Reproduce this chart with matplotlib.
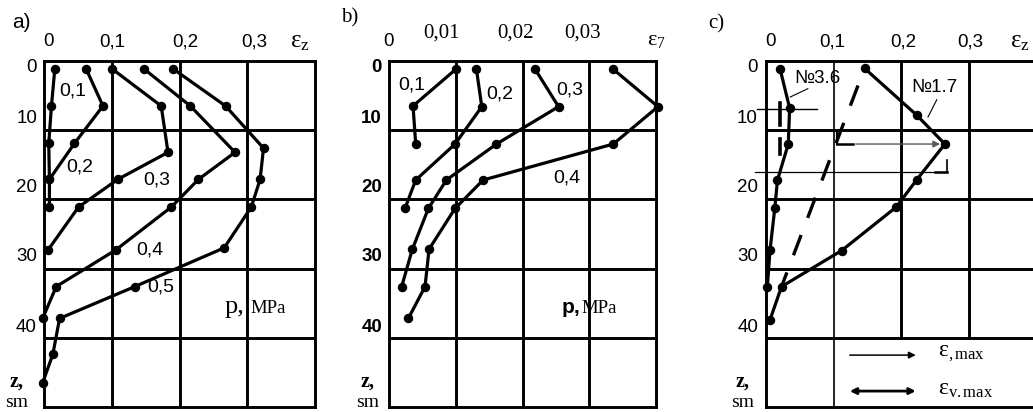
import matplotlib
matplotlib.use('Agg')
import matplotlib.pyplot as plt
from matplotlib.transforms import blended_transform_factory, ScaledTranslation

plt.rcParams['mathtext.fontset'] = 'custom'
plt.rcParams['mathtext.rm'] = 'Liberation Serif'
plt.rcParams['mathtext.it'] = 'Liberation Serif:italic'
plt.rcParams['mathtext.bf'] = 'Liberation Serif:bold'

SANS = 'Liberation Sans'
SERIF = 'Liberation Serif'

# ---------------- data ----------------
# panel a: eps_z vs depth z (cm), loads p (MPa)
a_loads = ['0,1', '0,2', '0,3', '0,4', '0,5']
a_z = [
    [1.1, 6.5, 11.9, 17.1, 21.1],
    [1.1, 6.5, 11.9, 17.1],
    [1.1, 6.5, 13.2, 17.1, 21.1, 27.3],
    [1.1, 6.5, 13.2, 17.1, 21.1, 27.3, 32.6, 37.2],
    [1.1, 6.5, 12.6, 17.1, 21.1, 27.0, 32.6, 37.2, 42.4, 46.5],
]
a_eps = [
    [0.016, 0.011, 0.007, 0.008, 0.008],
    [0.062, 0.087, 0.045, 0.008],
    [0.100, 0.173, 0.183, 0.109, 0.051, 0.006],
    [0.147, 0.216, 0.282, 0.228, 0.188, 0.106, 0.018, -0.002],
    [0.190, 0.268, 0.324, 0.319, 0.306, 0.266, 0.134, 0.023, 0.013, -0.002],
]
a_label_x = [0.043, 0.053, 0.166, 0.156, 0.173]
a_label_z = [4.4, 15.3, 17.2, 27.3, 32.6]
a_xticklabels = ['0', '0,1', '0,2', '0,3']

# panel b
b_loads = ['0,1', '0,2', '0,3', '0,4']
b_z = [
    [1.2, 6.5, 12.0],
    [1.2, 6.6, 12.0, 17.2, 21.3],
    [1.2, 6.6, 12.0, 17.2, 21.3, 27.2, 32.6],
    [1.2, 6.6, 12.0, 17.2, 21.3, 27.2, 32.6, 37.2],
]
b_eps = [
    [0.0100, 0.0036, 0.0040],
    [0.0131, 0.0139, 0.0099, 0.0040, 0.0024],
    [0.0219, 0.0254, 0.0161, 0.0086, 0.0059, 0.0035, 0.0019],
    [0.0336, 0.0403, 0.0336, 0.0141, 0.0099, 0.0060, 0.0054, 0.0029],
]
b_label_x = [0.0034, 0.0166, 0.0271, 0.0266]
b_label_z = [3.5, 4.7, 4.2, 16.9]
b_xticklabels = ['0,01', '0,02', '0,03']

# panel c
c_n17_z = [1.06, 7.8, 12.0, 17.2, 21.1, 27.4, 32.6, 37.4]
c_n17_e = [0.146, 0.223, 0.265, 0.223, 0.193, 0.112, 0.023, 0.006]
c_n36_z = [1.2, 6.8, 12.0, 17.2, 21.3, 27.3, 32.6]
c_n36_e = [0.021, 0.035, 0.033, 0.017, 0.013, 0.006, 0.002]
c_trend_z = [1.06, 32.6]
c_trend_e = [0.146, 0.023]
c_xticklabels = ['0', '0,1', '0,2', '0,3']

depth_labels = ['0', '10', '20', '30', '40']

# ---------------- layout ----------------
W, H = 1033, 412
fig = plt.figure(figsize=(W / 100, H / 100), dpi=100)

def ax_rect(left_px, width_px, top_px=61, bottom_px=407):
    return [left_px / W, 1 - bottom_px / H, width_px / W, (bottom_px - top_px) / H]

axA = fig.add_axes(ax_rect(44, 271))
axB = fig.add_axes(ax_rect(389, 267))
axC = fig.add_axes(ax_rect(766, 270))

LW = 2.1
depth_label_pos = [0.9, 8.3, 18.3, 28.3, 38.5]
DPX = 0.01  # inches per pixel at 100 dpi

def base(ax, xmax, full_grid=True):
    ax.set_xlim(0, xmax)
    ax.set_ylim(50, 0)
    ax.set_xticks([])
    ax.set_yticks([])
    for s in ax.spines.values():
        s.set_linewidth(LW)
    for k in (1, 2, 3, 4):
        ax.axhline(k * 10, color='k', lw=LW, zorder=1)
    if full_grid:
        for k in (1, 2, 3):
            ax.axvline(k * xmax / 4, color='k', lw=LW, zorder=1)

def left_labels(ax, right_px, fam=SANS, weight='normal'):
    tr = blended_transform_factory(ax.transAxes, ax.transData) + \
        ScaledTranslation(-right_px * DPX, 0, fig.dpi_scale_trans)
    for lab, z in zip(depth_labels, depth_label_pos):
        ax.text(0, z, lab, transform=tr, ha='right', va='center',
                fontsize=13.5, family=fam, weight=weight)

def zsm(ax, center_px):
    tr = blended_transform_factory(ax.transAxes, ax.transData) + \
        ScaledTranslation(-center_px * DPX, 0, fig.dpi_scale_trans)
    ax.text(0, 46.4, 'z,', transform=tr, ha='center', va='center',
            fontsize=14.5, family=SERIF, weight='bold')
    ax.text(0, 49.4, 'sm', transform=tr, ha='center', va='center',
            fontsize=14, family=SERIF)

def top_text(ax, x, s, ypx, fam=SANS, size=13.5, **kw):
    tr = blended_transform_factory(ax.transData, ax.transAxes)
    ax.text(x, 1 + (61 - ypx) / 346, s, transform=tr, ha='center',
            va='center', fontsize=size, family=fam, **kw)

def curve(ax, xs, zs):
    ax.plot(xs, zs, color='k', lw=2.3, marker='o', ms=5.8, zorder=3,
            clip_on=False, solid_capstyle='round')

# ---------------- panel a ----------------
base(axA, 0.4)
for xs, zs in zip(a_eps, a_z):
    curve(axA, xs, zs)
for lab, x, z in zip(a_loads, a_label_x, a_label_z):
    axA.text(x, z, lab, ha='center', va='center', fontsize=14, family=SANS)
for x, lab in zip([0.006, 0.1003, 0.208, 0.311], a_xticklabels):
    top_text(axA, x, lab, 42)
top_text(axA, 0.378, r'$\mathrm{ε}_{\mathrm{z}}$', 42, fam=SERIF, size=18)
left_labels(axA, 7)
zsm(axA, 27)
axA.text(0.267, 36.4, 'p,', ha='left', va='baseline', fontsize=19, family=SERIF)
axA.text(0.304, 36.4, 'MPa', ha='left', va='baseline', fontsize=13.5, family=SERIF)
fig.text(12 / W, 1 - 22 / H, 'a)', ha='left', va='center', fontsize=15, family=SANS)

# ---------------- panel b ----------------
base(axB, 0.04)
for xs, zs in zip(b_eps, b_z):
    curve(axB, xs, zs)
for lab, x, z in zip(b_loads, b_label_x, b_label_z):
    axB.text(x, z, lab, ha='center', va='center', fontsize=14, family=SANS)
top_text(axB, -0.0001, '0', 42)
for x, lab in zip([0.0079, 0.0189, 0.029], b_xticklabels):
    top_text(axB, x, lab, 33, fam=SERIF, size=15)
top_text(axB, 0.0401, r'$\mathrm{ε}_{7}$', 40, fam=SERIF, size=16)
left_labels(axB, 7, weight='bold')
zsm(axB, 21)
axB.text(0.0259, 36.4, 'p,', ha='left', va='baseline', fontsize=15,
         family=SANS, weight='bold')
axB.text(0.0288, 36.4, 'MPa', ha='left', va='baseline', fontsize=13.5, family=SERIF)
fig.text(341 / W, 1 - 18 / H, 'b)', ha='left', va='center', fontsize=15, family=SERIF)

# ---------------- panel c ----------------
base(axC, 0.4, full_grid=False)
axC.plot([0.1, 0.1], [0, 50], color='k', lw=1.2, zorder=1)
for gx in (0.2, 0.3):
    axC.plot([gx, gx], [0, 40], color='k', lw=LW, zorder=1)
axC.plot(c_trend_e, c_trend_z, color='k', lw=2.4, zorder=2,
         linestyle=(6.5, (6.5, 5.5)), dash_capstyle='butt')
curve(axC, c_n17_e, c_n17_z)
curve(axC, c_n36_e, c_n36_z)
# eps max arrow
axC.annotate('', xy=(0.262, 12.0), xytext=(0.129, 12.0),
             arrowprops=dict(arrowstyle='-|>', color='0.35', lw=1.0,
                             mutation_scale=10), zorder=2)
axC.plot([0.105, 0.129], [12.0, 12.0], color='k', lw=1.8, zorder=2)
axC.plot([0.105, 0.105], [10.4, 12.0], color='k', lw=1.6, zorder=2)
# horizontal marks
axC.plot([-0.017, 0.268], [16.0, 16.0], color='k', lw=0.9, clip_on=False, zorder=2)
axC.plot([0.268, 0.268], [14.3, 16.0], color='k', lw=1.2, zorder=2)
axC.plot([0.25, 0.268], [16.0, 16.0], color='k', lw=1.8, zorder=2)
axC.plot([-0.013, 0.076], [6.9, 6.9], color='k', lw=1.0, clip_on=False, zorder=2)
axC.plot([0.021, 0.021], [6.0, 9.3], color='k', lw=2.6, zorder=2)
axC.plot([0.020, 0.020], [11.2, 13.5], color='k', lw=2.6, zorder=2)
# labels
axC.text(0.076, 2.6, '№3.6', ha='center', va='center', fontsize=13.5, family=SANS)
axC.plot([0.062, 0.036], [4.0, 5.2], color='k', lw=0.8, zorder=2)
axC.text(0.25, 3.9, '№1.7', ha='center', va='center', fontsize=13.5, family=SANS)
axC.plot([0.253, 0.240], [5.6, 8.1], color='k', lw=0.8, zorder=2)
# legend
axC.annotate('', xy=(0.226, 42.5), xytext=(0.12, 42.5),
             arrowprops=dict(arrowstyle='-|>', color='k', lw=1.1,
                             mutation_scale=10))
axC.annotate('', xy=(0.226, 47.7), xytext=(0.12, 47.7),
             arrowprops=dict(arrowstyle='<|-|>', color='k', lw=2.0,
                             mutation_scale=9))
axC.text(0.255, 42.3, r'$\mathrm{ε}_{\mathrm{,max}}$', ha='left', va='center',
         fontsize=17, family=SERIF)
axC.text(0.255, 47.5, r'$\mathrm{ε}_{\mathrm{v.max}}$', ha='left', va='center',
         fontsize=17, family=SERIF)
for x, lab in zip([0.006, 0.098, 0.203, 0.302], c_xticklabels):
    top_text(axC, x, lab, 42)
top_text(axC, 0.376, r'$\mathrm{ε}_{\mathrm{z}}$', 42, fam=SERIF, size=18)
left_labels(axC, 8)
zsm(axC, 23)
fig.text(708 / W, 1 - 24 / H, 'c)', ha='left', va='center', fontsize=15, family=SERIF)

fig.savefig('out.png', dpi=100)
